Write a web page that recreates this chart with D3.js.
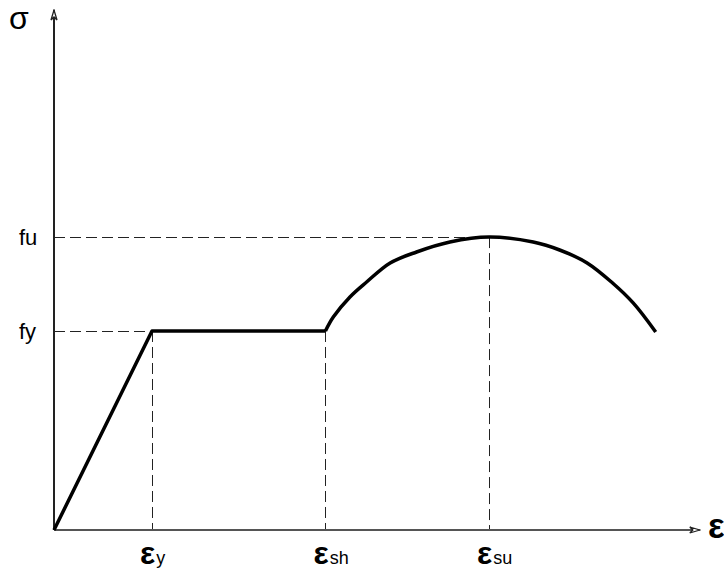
<!DOCTYPE html>
<html>
<head>
<meta charset="utf-8">
<script src="https://cdn.jsdelivr.net/npm/d3@7"></script>
<style>
  html, body { margin: 0; padding: 0; background: #fff; }
  svg { display: block; }
  text { font-family: Arial, "Liberation Sans", sans-serif; fill: #000; }
</style>
</head>
<body>
<svg id="chart" width="724" height="572"></svg>
<script>
// Idealised stress-strain curve of structural steel (normalised: strain / εy, stress / fy)
const elasticLine = [[0, 0], [1, 1]];
const yieldPlateau = [[1, 1], [2.77, 1]];
const hardeningCurve = [
  [2.77, 1.000], [2.85, 1.070], [3.02, 1.171], [3.19, 1.246], [3.43, 1.342],
  [3.70, 1.397], [4.04, 1.447], [4.44, 1.472], [4.89, 1.447], [5.16, 1.407],
  [5.44, 1.342], [5.70, 1.241], [5.91, 1.141], [6.14, 0.995]
];
const strainMarks = [
  { value: 1.00, main: "ε", sub: "y", top: 1.000 },
  { value: 2.77, main: "ε", sub: "sh", top: 1.000 },
  { value: 4.44, main: "ε", sub: "su", top: 1.472 }
];
const stressMarks = [
  { value: 1.000, label: "fy", strain: 1.00 },
  { value: 1.472, label: "fu", strain: 4.44 }
];
const strainMax = 6.59;
const stressMax = 2.613;

const svg = d3.select("#chart");
const x = d3.scaleLinear().domain([0, 6.49]).range([54, 690]);
const y = d3.scaleLinear().domain([0, 2.613]).range([530, 10]);

// small open arrowheads for the axes
const defs = svg.append("defs");
defs.append("marker")
  .attr("id", "arrow").attr("viewBox", "0 0 12 8")
  .attr("refX", 11).attr("refY", 4)
  .attr("markerWidth", 12).attr("markerHeight", 8)
  .attr("markerUnits", "userSpaceOnUse")
  .attr("orient", "auto")
  .append("path").attr("d", "M1,1 L11,4 L1,7 L4,4 Z")
  .attr("fill", "#fff").attr("stroke", "#222").attr("stroke-width", 1.3)
  .attr("stroke-linejoin", "miter");

// dashed guide lines
const guides = svg.append("g").attr("stroke", "#222").attr("stroke-width", 1)
  .attr("stroke-dasharray", "11,5").attr("fill", "none");
strainMarks.forEach(d => {
  guides.append("line")
    .attr("x1", Math.round(x(d.value)) + 0.5).attr("x2", Math.round(x(d.value)) + 0.5)
    .attr("y1", y(d.top)).attr("y2", y(0));
});
stressMarks.forEach(d => {
  guides.append("line")
    .attr("x1", x(0)).attr("x2", x(d.strain))
    .attr("y1", Math.round(y(d.value)) + 0.5).attr("y2", Math.round(y(d.value)) + 0.5);
});

// axes
svg.append("line")
  .attr("x1", x(0)).attr("y1", y(0)).attr("x2", x(0)).attr("y2", y(stressMax))
  .attr("stroke", "#222").attr("stroke-width", 2).attr("marker-end", "url(#arrow)");
svg.append("line")
  .attr("x1", x(0)).attr("y1", y(0)).attr("x2", x(strainMax)).attr("y2", y(0))
  .attr("stroke", "#555").attr("stroke-width", 2).attr("marker-end", "url(#arrow)");

// stress-strain curve
const line = d3.line().x(d => x(d[0])).y(d => y(d[1]));
const curveG = svg.append("g").attr("fill", "none").attr("stroke", "#000")
  .attr("stroke-width", 3.5).attr("stroke-linejoin", "round");
curveG.append("path").attr("d", line(elasticLine.concat(yieldPlateau.slice(1))));
curveG.append("path").attr("d", d3.line().x(d => x(d[0])).y(d => y(d[1]))
  .curve(d3.curveCatmullRom.alpha(0.5))(hardeningCurve));

// axis titles
svg.append("text").attr("x", 9).attr("y", 29).attr("font-size", 32).text("σ");
svg.append("text").attr("x", 708).attr("y", 538).attr("font-size", 35)
  .attr("font-weight", "bold").text("ε");

// stress labels
stressMarks.forEach(d => {
  svg.append("text").attr("x", 19).attr("y", y(d.value) + 8)
    .attr("font-size", 22).text(d.label);
});

// strain labels
strainMarks.forEach(d => {
  const t = svg.append("text").attr("x", x(d.value) - 12).attr("y", 564);
  t.append("tspan").attr("font-size", 32).attr("font-weight", "bold").text(d.main);
  t.append("tspan").attr("font-size", 18).attr("dx", 1).text(d.sub);
});
</script>
</body>
</html>
